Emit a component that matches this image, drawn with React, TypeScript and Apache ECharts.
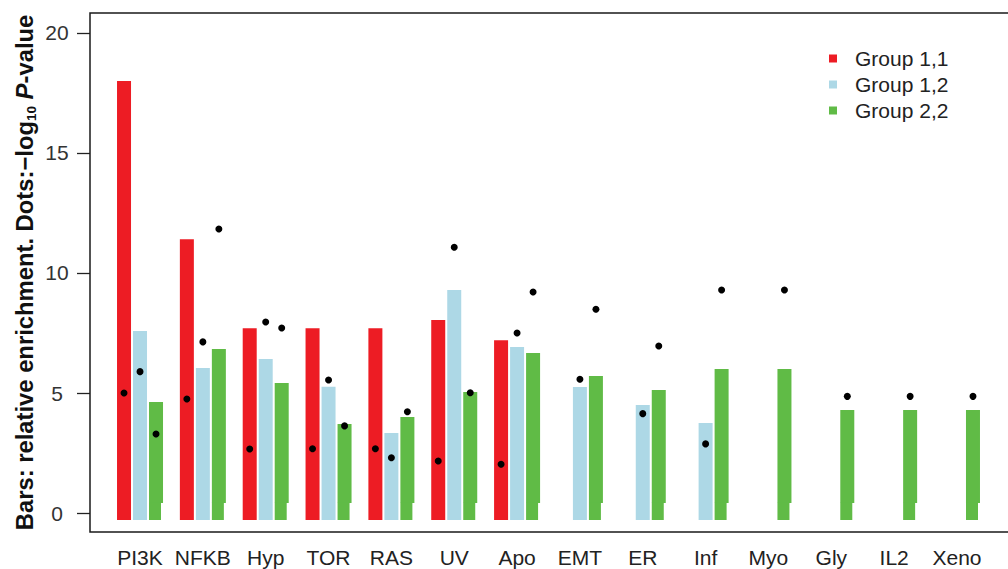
import React, { useEffect, useRef } from "react";
import * as echarts from "echarts";

// Pathway categories along the x axis
const categories = ["PI3K", "NFKB", "Hyp", "TOR", "RAS", "UV", "Apo", "EMT", "ER", "Inf", "Myo", "Gly", "IL2", "Xeno"];

// Bars: relative enrichment per group
const group11Bars = [18.0, 11.4, 7.7, 7.7, 7.7, 8.04, 7.2, null, null, null, null, null, null, null];
const group12Bars = [7.58, 6.04, 6.42, 5.26, 3.33, 9.29, 6.92, 5.25, 4.5, 3.75, null, null, null, null];
const group22Bars = [4.63, 6.83, 5.42, 3.71, 4.0, 5.04, 6.67, 5.71, 5.13, 6.0, 6.0, 4.29, 4.29, 4.29];

// Dots: -log10 P-value per group
const group11Dots = [5.0, 4.75, 2.67, 2.68, 2.68, 2.17, 2.03, null, null, null, null, null, null, null];
const group12Dots = [5.89, 7.13, 7.96, 5.54, 2.3, 11.07, 7.5, 5.57, 4.14, 2.88, null, null, null, null];
const group22Dots = [3.29, 11.83, 7.71, 3.63, 4.22, 5.01, 9.21, 8.49, 6.96, 9.29, 9.29, 4.86, 4.86, 4.86];

const seriesNames = ["Group 1,1", "Group 1,2", "Group 2,2"];
const yTicks = [0, 5, 10, 15, 20];

const FONT = "'Liberation Sans', Arial, Helvetica, sans-serif";
const COLORS = ["#ED1C24", "#ADD8E6", "#60BB46"];
const BAR_BASE = -0.29; // bars start a little under the zero line
const NOTCH_TOP = 0.42; // green bars get a slimmer foot below this level
const BAR_W = 14;
const OFFSETS = [-16, 0, 16];

function toPairs(values: (number | null)[]) {
  return values
    .map((v, i) => [i, v] as [number, number | null])
    .filter((d) => d[1] !== null);
}

function barSeries(name: string, values: (number | null)[], k: number) {
  return {
    type: "custom",
    name,
    itemStyle: { color: COLORS[k] },
    data: toPairs(values),
    z: 2,
    silent: true,
    renderItem: (params: any, api: any) => {
      const idx = api.value(0);
      const v = api.value(1);
      const top = api.coord([idx, v]);
      const bottom = api.coord([idx, BAR_BASE]);
      const x = top[0] + OFFSETS[k] - BAR_W / 2;
      const fill = api.visual("color");
      if (k !== 2) {
        return {
          type: "rect",
          shape: { x, y: top[1], width: BAR_W, height: bottom[1] - top[1] },
          style: { fill },
        };
      }
      const notch = api.coord([idx, NOTCH_TOP]);
      return {
        type: "group",
        children: [
          {
            type: "rect",
            shape: { x, y: top[1], width: BAR_W, height: notch[1] - top[1] },
            style: { fill },
          },
          {
            type: "rect",
            shape: { x, y: notch[1] - 0.2, width: BAR_W - 2, height: bottom[1] - notch[1] + 0.2 },
            style: { fill },
          },
        ],
      };
    },
  };
}

function dotSeries(values: (number | null)[], k: number) {
  return {
    type: "scatter",
    data: toPairs(values),
    symbol: "circle",
    symbolSize: 7,
    symbolOffset: [OFFSETS[k], 0],
    itemStyle: { color: "#000", opacity: 1 },
    z: 5,
    silent: true,
  };
}

export default function App() {
  const ref = useRef<HTMLDivElement>(null);

  useEffect(() => {
    if (!ref.current) return;
    const chart = echarts.init(ref.current, null, { renderer: "svg" });
    chart.setOption({
      animation: false,
      backgroundColor: "#fff",
      grid: { left: 108.6, right: 19.6, top: 13, bottom: 37 },
      legend: {
        data: seriesNames,
        orient: "vertical",
        left: 829,
        top: 48,
        padding: 0,
        itemGap: 5,
        itemWidth: 8,
        itemHeight: 8,
        icon: "rect",
        selectedMode: false,
        textStyle: { fontFamily: FONT, fontSize: 21, color: "#222", padding: [0, 0, 0, 13] },
      },
      xAxis: {
        type: "category",
        data: categories,
        boundaryGap: true,
        axisLine: { show: false },
        axisTick: { show: false },
        splitLine: { show: false },
        axisLabel: { interval: 0, fontFamily: FONT, fontSize: 21, color: "#222", margin: 15 },
      },
      yAxis: {
        type: "value",
        min: -0.79,
        max: 20.83,
        offset: 18.6,
        axisLine: { show: false },
        splitLine: { show: false },
        axisTick: {
          show: true,
          length: 13,
          customValues: yTicks,
          lineStyle: { color: "#222", width: 1.3 },
        },
        axisLabel: {
          customValues: yTicks,
          margin: 33,
          align: "center",
          fontFamily: FONT,
          fontSize: 21,
          color: "#333",
        },
      },
      graphic: [
        {
          type: "polyline",
          shape: { points: [[1008, 13], [90, 13], [90, 532], [1008, 532]] },
          style: { stroke: "#1a1a1a", lineWidth: 1.5, fill: null },
          z: 10,
          silent: true,
        },
        {
          type: "text",
          x: 24,
          y: 272.5,
          rotation: Math.PI / 2,
          silent: true,
          style: {
            text: "{a|Bars: relative enrichment. Dots:\u2212log}{s|10}{a| }{i|P}{a|-value}",
            align: "center",
            verticalAlign: "middle",
            rich: {
              a: { fontFamily: FONT, fontSize: 23.8, fontWeight: "bold", fill: "#111", lineHeight: 28 },
              s: { fontFamily: FONT, fontSize: 13.5, fontWeight: "bold", fill: "#111", verticalAlign: "bottom", lineHeight: 14 },
              i: { fontFamily: FONT, fontSize: 23.8, fontWeight: "bold", fontStyle: "italic", fill: "#111", lineHeight: 28 },
            },
          },
        },
      ],
      series: [
        barSeries(seriesNames[0], group11Bars, 0),
        barSeries(seriesNames[1], group12Bars, 1),
        barSeries(seriesNames[2], group22Bars, 2),
        dotSeries(group11Dots, 0),
        dotSeries(group12Dots, 1),
        dotSeries(group22Dots, 2),
      ],
    });
    return () => chart.dispose();
  }, []);

  return (
    <div
      ref={ref}
      style={{ position: "fixed", left: 0, top: 0, width: 1008, height: 569, background: "#fff" }}
    />
  );
}
